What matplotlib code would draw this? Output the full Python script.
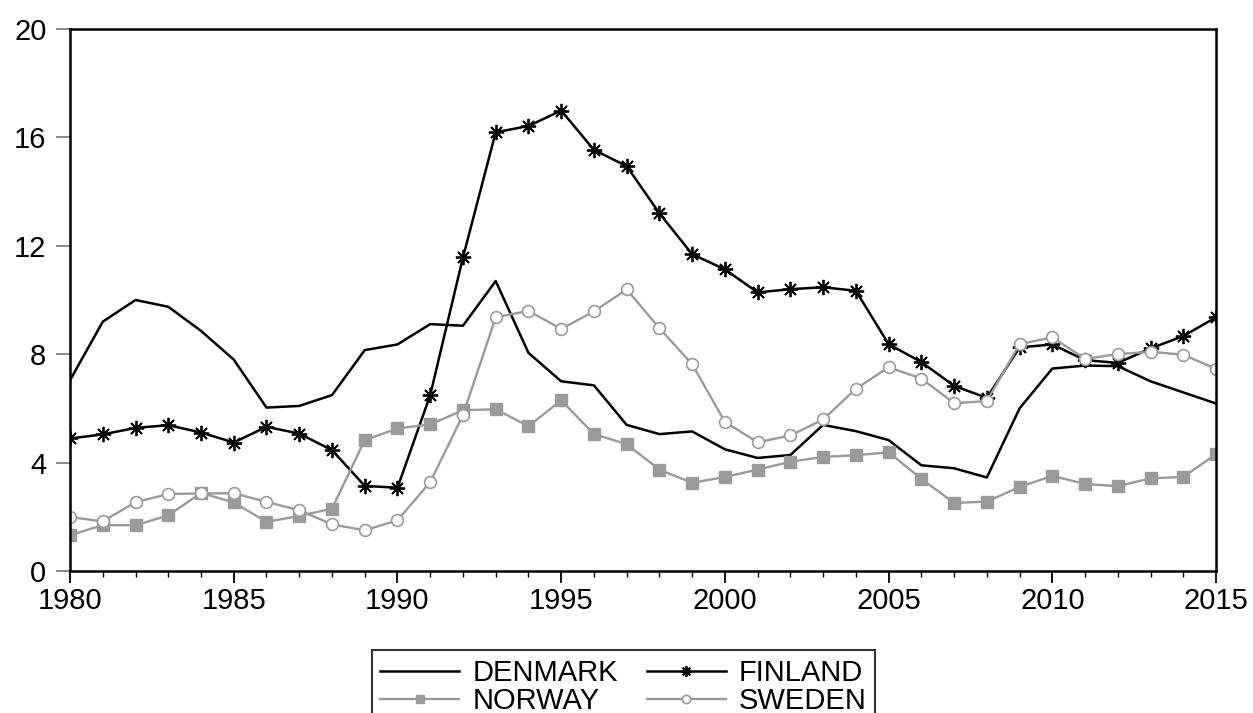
import matplotlib
matplotlib.use("Agg")
import matplotlib.pyplot as plt
from matplotlib.ticker import MultipleLocator

plt.rcParams['font.family'] = ['Liberation Sans', 'DejaVu Sans']

years = list(range(1980, 2016))

denmark = [7.04, 9.2, 10.0, 9.75, 8.86, 7.8, 6.03, 6.09, 6.49, 8.15,
           8.36, 9.11, 9.05, 10.7, 8.05, 7.0, 6.85, 5.39, 5.05, 5.15,
           4.49, 4.17, 4.28, 5.39, 5.16, 4.83, 3.9, 3.79, 3.45, 6.0,
           7.47, 7.58, 7.56, 7.0, 6.59, 6.18]

finland = [4.89, 5.04, 5.28, 5.38, 5.11, 4.74, 5.32, 5.07, 4.46, 3.14,
           3.07, 6.49, 11.57, 16.19, 16.42, 16.99, 15.54, 14.94, 13.2, 11.69,
           11.13, 10.28, 10.4, 10.47, 10.34, 8.37, 7.71, 6.83, 6.39, 8.25,
           8.36, 7.78, 7.68, 8.21, 8.67, 9.36]

norway = [1.32, 1.69, 1.69, 2.05, 2.88, 2.53, 1.81, 2.03, 2.3, 4.83,
          5.26, 5.41, 5.93, 5.97, 5.34, 6.3, 5.05, 4.68, 3.74, 3.25,
          3.47, 3.74, 4.03, 4.21, 4.27, 4.38, 3.4, 2.51, 2.56, 3.1,
          3.51, 3.21, 3.13, 3.42, 3.47, 4.31]

sweden = [1.99, 1.83, 2.54, 2.84, 2.86, 2.87, 2.55, 2.24, 1.72, 1.5,
          1.87, 3.28, 5.75, 9.36, 9.6, 8.93, 9.58, 10.39, 8.96, 7.63,
          5.5, 4.75, 5.0, 5.59, 6.72, 7.52, 7.1, 6.19, 6.27, 8.37,
          8.62, 7.83, 8.0, 8.09, 7.98, 7.46]

y_ticks = [0, 4, 8, 12, 16, 20]
x_ticks = [1980, 1985, 1990, 1995, 2000, 2005, 2010, 2015]

GRAY = '#9a9a9a'

fig = plt.figure(figsize=(12.53, 7.13), dpi=100)
ax = fig.add_axes([0.0559, 0.1992, 0.9705 - 0.0559, 0.9593 - 0.1992])

h_den, = ax.plot(years, denmark, color='black', lw=1.8, label='DENMARK')
h_fin, = ax.plot(years, finland, color='black', lw=1.8, marker=(8, 2, 0), ms=11,
                 mew=1.3, label='FINLAND')
h_nor, = ax.plot(years, norway, color=GRAY, lw=1.7, marker='s', ms=8,
                 mfc=GRAY, mec=GRAY, label='NORWAY')
h_swe, = ax.plot(years, sweden, color=GRAY, lw=1.7, marker='o', ms=8.5,
                 mfc='white', mec=GRAY, mew=1.2, label='SWEDEN')

ax.set_xlim(1980, 2015)
ax.set_ylim(0, 20)
ax.set_xticks(x_ticks)
ax.xaxis.set_minor_locator(MultipleLocator(1))
ax.set_yticks(y_ticks)
ax.set_yticklabels([str(v) for v in y_ticks])

for s in ax.spines.values():
    s.set_linewidth(1.8)
    s.set_color('black')

ax.tick_params(axis='y', which='major', direction='out', length=10, width=1.3,
               color='#808080', labelsize=21, pad=7)
ax.tick_params(axis='x', which='major', direction='out', length=8.5, width=1.3,
               color='black', labelsize=21, pad=3)
ax.tick_params(axis='x', which='minor', direction='out', length=4.5, width=1.0,
               color='black')

handles = [h_den, h_nor, h_fin, h_swe]
labels = [h.get_label() for h in handles]
leg = fig.legend(handles, labels, loc='upper center',
                 bbox_to_anchor=(0.4976, 0.0884), ncol=2,
                 fontsize=21, frameon=True, fancybox=False, edgecolor='black',
                 handlelength=2.7, handletextpad=0.45, columnspacing=1.0,
                 borderpad=0.3, labelspacing=0.0, borderaxespad=0.0,
                 markerscale=0.7)
leg.get_frame().set_linewidth(1.5)

fig.savefig('out.png', dpi=100)
